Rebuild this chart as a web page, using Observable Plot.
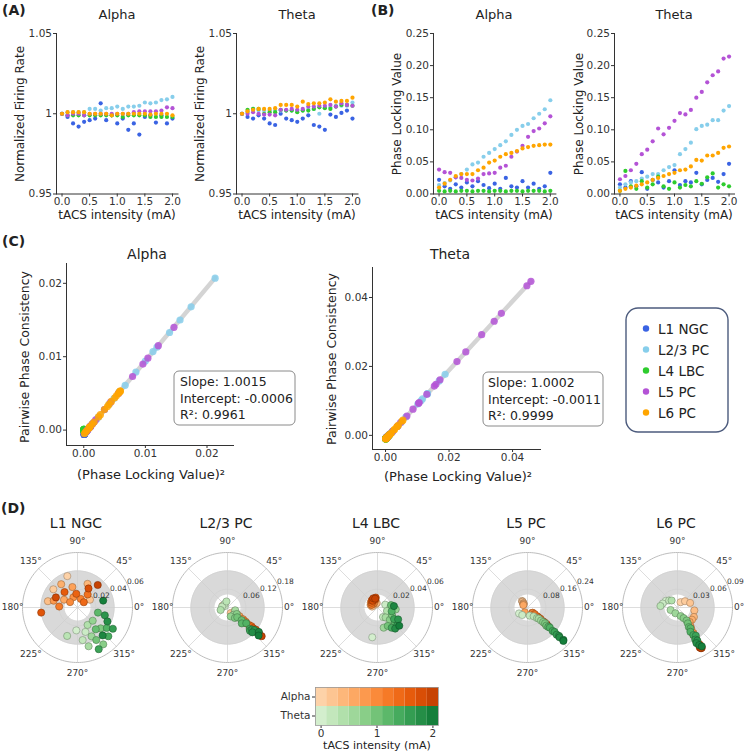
<!DOCTYPE html>
<html>
<head>
<meta charset="utf-8">
<script src="https://cdn.jsdelivr.net/npm/d3@7"></script>
<script src="https://cdn.jsdelivr.net/npm/@observablehq/plot@0.6"></script>
<style>
  html, body { margin: 0; padding: 0; background: #fff; }
  #fig { position: relative; width: 746px; height: 752px; overflow: hidden; font-family: "DejaVu Sans", sans-serif; }
  #fig svg { position: absolute; overflow: visible; }
</style>
</head>
<body>
<div id="fig"></div>
<script>
// ---------- data ----------
const cellTypes = ["L1 NGC", "L2/3 PC", "L4 LBC", "L5 PC", "L6 PC"];
const cellColors = ["#3a63e3", "#87ceeb", "#2ecc2e", "#b453d6", "#ffa500"];
const intensities = [0, 0.1, 0.2, 0.3, 0.4, 0.5, 0.6, 0.7, 0.8, 0.9, 1.0, 1.1, 1.2, 1.3, 1.4, 1.5, 1.6, 1.7, 1.8, 1.9, 2.0];
const barSteps = [0, 0.2, 0.4, 0.6, 0.8, 1.0, 1.2, 1.4, 1.6, 1.8, 2.0];

// (A) normalized firing rate, rows follow cellTypes
const rateAlpha = [
  [1.000, 0.998, 0.994, 0.992, 0.995, 0.996, 0.997, 1.0065, 0.996, 0.999, 0.994, 0.997, 0.990, 0.994, 0.987, 0.998, 0.999, 0.9945, 0.999, 0.994, 0.997],
  [1.000, 1.001, 1.001, 1.001, 1.001, 1.003, 1.003, 1.002, 1.0035, 1.0035, 1.0045, 1.003, 1.0045, 1.0045, 1.005, 1.007, 1.0065, 1.007, 1.0085, 1.009, 1.0105],
  [1.000, 0.999, 0.999, 0.999, 0.999, 0.999, 0.999, 0.999, 0.999, 0.999, 0.999, 0.998, 0.999, 0.999, 0.999, 0.999, 0.998, 0.998, 0.998, 0.998, 0.998],
  [1.000, 0.999, 1.000, 1.000, 0.999, 1.000, 1.000, 1.000, 1.000, 1.000, 1.000, 1.000, 1.000, 1.001, 1.0015, 1.0015, 1.0015, 1.0015, 1.002, 1.004, 1.0035],
  [1.000, 1.001, 1.001, 1.001, 1.001, 1.000, 1.000, 1.000, 1.000, 0.999, 1.000, 1.000, 1.000, 1.000, 1.000, 1.000, 0.9995, 1.000, 1.000, 1.000, 0.999]
];
const rateTheta = [
  [1.000, 0.998, 0.997, 0.999, 0.997, 0.994, 0.993, 1.000, 0.997, 0.996, 0.995, 0.997, 0.999, 0.993, 0.992, 0.990, 0.9995, 0.998, 1.0005, 1.002, 0.997],
  [1.000, 1.001, 1.003, 1.002, 1.002, 1.002, 1.002, 1.002, 1.002, 1.002, 1.002, 1.002, 1.003, 1.003, 1.000, 1.004, 1.004, 1.005, 1.005, 1.005, 1.007],
  [1.000, 1.0025, 1.003, 1.003, 1.000, 1.001, 1.001, 1.0025, 1.002, 1.002, 1.001, 1.002, 1.002, 1.003, 1.004, 1.0035, 1.003, 1.0045, 1.0055, 1.0055, 1.005],
  [1.000, 1.000, 1.001, 1.000, 0.9995, 0.9995, 0.999, 1.0025, 1.0025, 1.003, 1.0025, 1.003, 1.0045, 1.0045, 1.005, 1.005, 1.0055, 1.0045, 1.0065, 1.0055, 1.005],
  [1.000, 1.0015, 1.0025, 1.003, 1.003, 1.003, 1.0035, 1.0055, 1.0055, 1.0055, 1.0045, 1.0075, 1.006, 1.0065, 1.0065, 1.007, 1.009, 1.0075, 1.008, 1.008, 1.010]
];

// (B) phase locking value
const plvAlpha = [
  [0.022, 0.012, 0.008, 0.015, 0.010, 0.018, 0.012, 0.020, 0.014, 0.009, 0.016, 0.008, 0.025, 0.012, 0.010, 0.020, 0.010, 0.016, 0.008, 0.012, 0.033],
  [0.014, 0.017, 0.021, 0.026, 0.031, 0.038, 0.046, 0.049, 0.058, 0.064, 0.070, 0.076, 0.082, 0.092, 0.100, 0.106, 0.109, 0.118, 0.125, 0.132, 0.146],
  [0.005, 0.004, 0.005, 0.004, 0.005, 0.005, 0.004, 0.005, 0.005, 0.004, 0.005, 0.005, 0.004, 0.005, 0.005, 0.004, 0.005, 0.005, 0.005, 0.004, 0.005],
  [0.038, 0.034, 0.033, 0.026, 0.025, 0.022, 0.021, 0.024, 0.031, 0.032, 0.033, 0.041, 0.044, 0.058, 0.066, 0.075, 0.089, 0.098, 0.102, 0.110, 0.121],
  [0.010, 0.016, 0.022, 0.028, 0.031, 0.031, 0.031, 0.037, 0.041, 0.049, 0.052, 0.058, 0.062, 0.064, 0.067, 0.071, 0.073, 0.075, 0.076, 0.077, 0.077]
];
const plvTheta = [
  [0.015, 0.010, 0.020, 0.012, 0.034, 0.008, 0.022, 0.018, 0.010, 0.020, 0.037, 0.014, 0.020, 0.018, 0.033, 0.015, 0.022, 0.025, 0.019, 0.031, 0.047],
  [0.010, 0.015, 0.018, 0.020, 0.024, 0.027, 0.031, 0.031, 0.037, 0.042, 0.045, 0.062, 0.070, 0.080, 0.101, 0.106, 0.108, 0.115, 0.115, 0.130, 0.137],
  [0.005, 0.036, 0.012, 0.008, 0.020, 0.010, 0.015, 0.027, 0.012, 0.008, 0.018, 0.010, 0.014, 0.012, 0.020, 0.016, 0.026, 0.032, 0.010, 0.015, 0.012],
  [0.023, 0.028, 0.037, 0.047, 0.062, 0.069, 0.082, 0.102, 0.093, 0.103, 0.114, 0.126, 0.124, 0.131, 0.150, 0.159, 0.174, 0.185, 0.191, 0.211, 0.214],
  [0.005, 0.008, 0.010, 0.013, 0.015, 0.018, 0.022, 0.025, 0.028, 0.031, 0.033, 0.037, 0.038, 0.043, 0.053, 0.052, 0.060, 0.060, 0.064, 0.072, 0.074]
];

// (C) pairwise phase consistency
const ppcAlpha = [
  [-0.0001, -0.0005, -0.0006, -0.0004, -0.0005, -0.0003, -0.0005, -0.0002, -0.0004, -0.0006, -0.0003, -0.0006, 0.0000, -0.0005, -0.0005, -0.0002, -0.0005, -0.0003, -0.0006, -0.0005, 0.0005],
  [-0.0004, -0.0003, -0.0001, 0.0001, 0.0004, 0.0009, 0.0015, 0.0018, 0.0028, 0.0035, 0.0043, 0.0052, 0.0061, 0.0079, 0.0094, 0.0107, 0.0113, 0.0133, 0.0150, 0.0168, 0.0207],
  [0.0000, -0.0001, 0.0001, 0.0000, -0.0001, 0.0000, 0.0001, -0.0001, 0.0000, 0.0000, 0.0001, -0.0001, 0.0000, 0.0000, -0.0001, 0.0000, 0.0001, 0.0000, -0.0001, 0.0000, 0.0000],
  [0.0009, 0.0006, 0.0005, 0.0001, 0.0000, -0.0001, -0.0002, 0.0000, 0.0004, 0.0004, 0.0005, 0.0011, 0.0014, 0.0028, 0.0038, 0.0050, 0.0073, 0.0090, 0.0098, 0.0115, 0.0140],
  [-0.0005, -0.0003, -0.0001, 0.0002, 0.0004, 0.0004, 0.0004, 0.0008, 0.0011, 0.0018, 0.0021, 0.0028, 0.0032, 0.0035, 0.0039, 0.0044, 0.0047, 0.0050, 0.0052, 0.0053, 0.0053]
];
const ppcTheta = [
  [-0.0007, -0.0008, -0.0005, -0.0008, 0.0002, -0.0009, -0.0004, -0.0006, -0.0008, -0.0005, 0.0004, -0.0007, -0.0005, -0.0006, 0.0001, -0.0007, -0.0004, -0.0003, -0.0006, 0.0000, 0.0012],
  [-0.0010, -0.0009, -0.0008, -0.0007, -0.0005, -0.0004, -0.0001, -0.0001, 0.0003, 0.0007, 0.0009, 0.0027, 0.0038, 0.0053, 0.0091, 0.0101, 0.0106, 0.0121, 0.0121, 0.0158, 0.0177],
  [-0.0010, 0.0002, -0.0009, -0.0010, -0.0007, -0.0010, -0.0009, -0.0004, -0.0009, -0.0010, -0.0008, -0.0010, -0.0009, -0.0009, -0.0007, -0.0008, -0.0004, -0.0001, -0.0010, -0.0009, -0.0009],
  [-0.0006, -0.0003, 0.0003, 0.0011, 0.0027, 0.0037, 0.0056, 0.0093, 0.0076, 0.0095, 0.0119, 0.0148, 0.0143, 0.0161, 0.0214, 0.0242, 0.0292, 0.0331, 0.0354, 0.0434, 0.0447],
  [-0.0010, -0.0010, -0.0009, -0.0009, -0.0008, -0.0007, -0.0006, -0.0005, -0.0003, -0.0001, 0.0000, 0.0003, 0.0003, 0.0007, 0.0017, 0.0016, 0.0025, 0.0025, 0.0030, 0.0041, 0.0044]
];
const fitSlope = [1.0015, 1.0002];
const fitIntercept = [-0.0006, -0.0011];
const fitR2 = [0.9961, 0.9999];

// (D) preferred phase (degrees) and vector length per intensity
const phaseAlpha = [
  [108, 143, 32, 168, 67, 125, 150, 104, 164, 112, 144, 69, 177, 52, 40, 95, 130, 188, 60, 155, 48],
  [150, 160, 300, 335, 318, 325, 322, 324, 320, 323, 321, 322, 320, 321, 322, 320, 321, 322, 320, 321, 320],
  [150, 120, 170, 100, 140, 130, 160, 115, 145, 125, 135, 105, 155, 120, 140, 110, 130, 100, 125, 115, 105],
  [130, 130, 131, 133, 135, 140, 150, 240, 310, 313, 315, 316, 317, 318, 318, 319, 318, 319, 318, 319, 318],
  [60, 40, 20, 350, 330, 320, 310, 305, 303, 302, 300, 301, 300, 299, 300, 301, 300, 299, 300, 301, 300]
];
const vecAlpha = [
  [0.036, 0.033, 0.016, 0.033, 0.028, 0.031, 0.017, 0.023, 0.027, 0.012, 0.010, 0.010, 0.020, 0.018, 0.009, 0.015, 0.022, 0.040, 0.024, 0.026, 0.033],
  [0.014, 0.017, 0.021, 0.026, 0.031, 0.038, 0.046, 0.049, 0.058, 0.064, 0.070, 0.076, 0.082, 0.092, 0.100, 0.106, 0.109, 0.118, 0.125, 0.132, 0.146],
  [0.005, 0.004, 0.006, 0.005, 0.007, 0.006, 0.008, 0.007, 0.009, 0.008, 0.006, 0.009, 0.007, 0.010, 0.008, 0.009, 0.010, 0.011, 0.009, 0.011, 0.010],
  [0.038, 0.034, 0.033, 0.026, 0.025, 0.022, 0.021, 0.024, 0.031, 0.032, 0.033, 0.041, 0.044, 0.058, 0.066, 0.075, 0.089, 0.098, 0.102, 0.110, 0.121],
  [0.010, 0.016, 0.022, 0.028, 0.031, 0.031, 0.031, 0.037, 0.041, 0.049, 0.052, 0.058, 0.062, 0.064, 0.067, 0.071, 0.073, 0.075, 0.076, 0.077, 0.077]
];
const phaseTheta = [
  [267, 288, 279, 250, 300, 286, 296, 319, 305, 318, 300, 310, 346, 325, 317, 297, 329, 344, 335, 312, 15],
  [150, 130, 170, 100, 200, 340, 310, 290, 325, 305, 315, 318, 312, 320, 316, 314, 318, 320, 315, 322, 318],
  [260, 20, 300, 0, 340, 309, 287, 354, 315, 332, 299, 10, 319, 345, 305, 325, 318, 330, 310, 5, 320],
  [215, 235, 285, 305, 312, 315, 316, 318, 317, 318, 316, 318, 317, 318, 317, 318, 317, 318, 317, 318, 317],
  [150, 165, 140, 175, 130, 200, 250, 290, 300, 305, 303, 300, 302, 298, 300, 303, 299, 301, 298, 300, 302]
];
const vecTheta = [
  [0.025, 0.028, 0.036, 0.033, 0.022, 0.044, 0.035, 0.022, 0.049, 0.034, 0.041, 0.031, 0.023, 0.039, 0.046, 0.051, 0.045, 0.031, 0.036, 0.041, 0.029],
  [0.010, 0.015, 0.018, 0.020, 0.024, 0.027, 0.031, 0.031, 0.037, 0.042, 0.045, 0.062, 0.070, 0.080, 0.101, 0.106, 0.108, 0.115, 0.115, 0.130, 0.137],
  [0.033, 0.009, 0.012, 0.014, 0.011, 0.014, 0.023, 0.020, 0.019, 0.018, 0.023, 0.015, 0.025, 0.016, 0.027, 0.022, 0.029, 0.026, 0.030, 0.018, 0.031],
  [0.045, 0.040, 0.037, 0.047, 0.062, 0.069, 0.082, 0.102, 0.093, 0.103, 0.114, 0.126, 0.124, 0.131, 0.150, 0.159, 0.174, 0.185, 0.191, 0.211, 0.214],
  [0.022, 0.025, 0.018, 0.028, 0.015, 0.012, 0.010, 0.015, 0.020, 0.026, 0.031, 0.037, 0.040, 0.045, 0.052, 0.055, 0.060, 0.063, 0.066, 0.071, 0.075]
];
const radialTicks = [
  [0.02, 0.04, 0.06],
  [0.06, 0.12, 0.18],
  [0.02, 0.04, 0.06],
  [0.08, 0.16, 0.24],
  [0.03, 0.06, 0.09]
];
const compass = [0, 45, 90, 135, 180, 225, 270, 315];

// ---------- helpers ----------
const fig = document.getElementById("fig");
const ink = "#333";
const baseStyle = {fontFamily: "DejaVu Sans, sans-serif", color: ink, background: "transparent", overflow: "visible"};
const alphaColor = (v) => d3.interpolateOranges(0.23 + 0.28 * v);
const thetaColor = (v) => d3.interpolateGreens(0.2 + 0.3 * v);
const cellScale = {domain: cellTypes, range: cellColors};

function addPlot(frame, opts, fontSize = "11px") {
  const m = {l: 44, r: 12, t: 12, b: 28};
  const w = frame[1] - frame[0], h = frame[3] - frame[2];
  const svg = Plot.plot({
    width: w + m.l + m.r, height: h + m.t + m.b,
    marginLeft: m.l, marginRight: m.r, marginTop: m.t, marginBottom: m.b,
    style: {...baseStyle, fontSize},
    ...opts
  });
  svg.style.left = (frame[0] - m.l) + "px";
  svg.style.top = (frame[2] - m.t) + "px";
  fig.appendChild(svg);
  return svg;
}

function rows(values, field = "v") {
  return values.flatMap((row, k) => row.map((v, j) => ({type: cellTypes[k], i: intensities[j], [field]: v})));
}

const intensityAxis = {domain: [-0.1, 2.1], ticks: [0, 0.5, 1, 1.5, 2], tickFormat: d3.format(".1f"),
  tickSize: 3, tickPadding: 1, label: null, line: true};

// ---------- (A) firing rate ----------
[[rateAlpha, [56.3, 177.8, 33, 193.5]], [rateTheta, [236.3, 357.8, 33, 193.5]]].forEach(([vals, fr]) => {
  addPlot(fr, {
    x: intensityAxis,
    y: {domain: [0.95, 1.05], ticks: [0.95, 1, 1.05], tickFormat: d3.format("~g"), tickSize: 3, tickPadding: 1.5, line: true, label: null},
    color: cellScale,
    marks: [Plot.dot(rows(vals), {x: "i", y: "v", fill: "type", r: 2.1})]
  }, "10.5px");
});

// ---------- (B) phase locking ----------
[[plvAlpha, [432.8, 555.2, 33, 193.5]], [plvTheta, [614.2, 734.2, 33, 193.5]]].forEach(([vals, fr]) => {
  addPlot(fr, {
    x: intensityAxis,
    y: {domain: [0, 0.25], ticks: [0, 0.05, 0.1, 0.15, 0.2, 0.25], tickFormat: d3.format(".2f"), tickSize: 3, tickPadding: 1.5, line: true, label: null},
    color: cellScale,
    marks: [Plot.dot(rows(vals), {x: "i", y: "v", fill: "type", r: 2.1})]
  }, "10.5px");
});

// ---------- (C) PPC vs PLV squared ----------
[
  {plv: plvAlpha, ppc: ppcAlpha, fr: [66, 233, 263, 445], xd: [-0.0028, 0.0243], yd: [-0.0021, 0.0227], ticks: [0, 0.01, 0.02], f: 0},
  {plv: plvTheta, ppc: ppcTheta, fr: [372, 540, 267, 449], xd: [-0.0041, 0.0488], yd: [-0.0041, 0.0487], ticks: [0, 0.02, 0.04], f: 1}
].forEach(({plv, ppc, fr, xd, yd, ticks, f}) => {
  const pts = plv.flatMap((row, k) => row.map((p, j) => ({type: cellTypes[k], x: p * p, y: ppc[k][j]})));
  const xmax = d3.max(pts, (d) => d.x);
  const fit = [0, xmax].map((x) => ({x, y: fitSlope[f] * x + fitIntercept[f]}));
  addPlot(fr, {
    x: {domain: xd, ticks, tickFormat: d3.format(".2f"), tickSize: 3, tickPadding: 1.5, line: true, label: null},
    y: {domain: yd, ticks, tickFormat: d3.format(".2f"), tickSize: 3, tickPadding: 1.5, line: true, label: null},
    color: cellScale,
    marks: [
      Plot.line(fit, {x: "x", y: "y", stroke: "#d4d4d4", strokeWidth: 4.5}),
      Plot.dot(pts, {x: "x", y: "y", fill: "type", r: 3.6, fillOpacity: 0.85})
    ]
  }, "10.5px");
});

// ---------- (D) polar phase plots ----------
const R = 55, polarY = 607;
const polarX = [77, 227, 377, 527, 677];
const rad = Math.PI / 180;
const ring = (r) => d3.range(0, 361, 2).map((a) => [r * Math.cos(a * rad), r * Math.sin(a * rad)]);

cellTypes.forEach((name, k) => {
  const rt = radialTicks[k];
  const rmax = rt[rt.length - 1];
  const unit = rmax / R; // data units per pixel
  const pts = [
    ...phaseAlpha[k].map((a, j) => ({a, r: vecAlpha[k][j], fill: alphaColor(intensities[j])})),
    ...phaseTheta[k].map((a, j) => ({a, r: vecTheta[k][j], fill: thetaColor(intensities[j])}))
  ];
  const labelAt = (a, rr) => ({a, x: rr * Math.cos(a * rad), y: rr * Math.sin(a * rad)});
  const mid = compass.filter((a) => a !== 0 && a !== 180).map((a) => labelAt(a, (R + 11) * unit));
  const east = [labelAt(0, (R + 1.5) * unit)];
  const west = [labelAt(180, (R - 1) * unit)];
  const svg = Plot.plot({
    width: 150, height: 150, margin: 20,
    x: {domain: [-rmax, rmax], axis: null},
    y: {domain: [-rmax, rmax], axis: null},
    color: {type: "identity"},
    style: {...baseStyle, fontSize: "9px"},
    marks: [
      Plot.line(ring(25 * unit), {x: (d) => d[0], y: (d) => d[1], stroke: "#d9d9d9", strokeWidth: 24}),
      Plot.link(compass, {x1: () => 0, y1: () => 0, x2: (a) => rmax * Math.cos(a * rad), y2: (a) => rmax * Math.sin(a * rad),
        stroke: "#cfcfcf", strokeWidth: 0.7}),
      ...rt.map((t, ti) => Plot.line(ring(t), {x: (d) => d[0], y: (d) => d[1],
        stroke: ti === rt.length - 1 ? "#bdbdbd" : "#d0d0d0", strokeWidth: ti === rt.length - 1 ? 1 : 0.7})),
      Plot.dot(pts, {x: (d) => d.r * Math.cos(d.a * rad), y: (d) => d.r * Math.sin(d.a * rad), r: 3.6,
        fill: "fill", stroke: (d) => d3.color(d.fill).darker(1.3).formatHex(), strokeWidth: 0.6}),
      Plot.text(rt, {x: (t) => t * Math.cos(22.5 * rad), y: (t) => t * Math.sin(22.5 * rad), text: d3.format(".2f"),
        dx: 7, dy: -5, fontSize: 7.5, fill: ink}),
      Plot.text(mid, {x: "x", y: "y", text: (d) => d.a + "°", fill: ink}),
      Plot.text(east, {x: "x", y: "y", text: (d) => d.a + "°", textAnchor: "start", fill: ink}),
      Plot.text(west, {x: "x", y: "y", text: (d) => d.a + "°", textAnchor: "end", fill: ink})
    ]
  });
  svg.style.left = (polarX[k] - 75) + "px";
  svg.style.top = (polarY - 75) + "px";
  fig.appendChild(svg);
});

// ---------- colour bar ----------
const barCells = [
  ...barSteps.map((v) => ({band: "Alpha", v, fill: alphaColor(v)})),
  ...barSteps.map((v) => ({band: "Theta", v, fill: thetaColor(v)}))
];
addPlot([315, 438, 687, 725], {
  x: {domain: [-0.1, 2.1], ticks: [0, 1, 2], tickFormat: d3.format("d"), tickSize: 3, tickPadding: 1, label: null},
  y: {domain: ["Alpha", "Theta"], padding: 0, tickSize: 3, tickPadding: 2, label: null},
  color: {type: "identity"},
  marks: [
    Plot.barX(barCells, {x1: (d) => d.v - 0.1, x2: (d) => d.v + 0.1, y: "band", fill: "fill", inset: 0}),
    Plot.frame({stroke: "#9a9a9a", strokeWidth: 0.8})
  ]
}, "10.5px");

// ---------- text, legend and annotation layer ----------
const overlay = d3.create("svg").attr("width", 746).attr("height", 752)
  .style("left", "0px").style("top", "0px").style("pointer-events", "none")
  .attr("font-family", "DejaVu Sans, sans-serif");
function txt(x, y, s, {size = 12, anchor = "middle", weight = "normal", rotate = 0, fill = "#222"} = {}) {
  overlay.append("text").attr("x", x).attr("y", y)
    .attr("text-anchor", anchor).attr("dominant-baseline", "central")
    .attr("font-size", size).attr("font-weight", weight).attr("fill", fill)
    .attr("transform", rotate ? `rotate(${rotate},${x},${y})` : null)
    .text(s);
}

// panel letters
txt(2, 10, "(A)", {size: 14, anchor: "start", weight: "bold"});
txt(371, 10, "(B)", {size: 14, anchor: "start", weight: "bold"});
txt(2, 241, "(C)", {size: 14, anchor: "start", weight: "bold"});
txt(1, 508, "(D)", {size: 14, anchor: "start", weight: "bold"});

// (A) and (B) titles and axis labels
[[117, "Alpha"], [297, "Theta"], [494, "Alpha"], [674, "Theta"]].forEach(([x, t]) => {
  txt(x, 14, t, {size: 13});
  txt(x, 215, "tACS intensity (mA)", {size: 12});
});
txt(20, 114, "Normalized Firing Rate", {size: 12, rotate: -90});
txt(200, 114, "Normalized Firing Rate", {size: 12, rotate: -90});
txt(397, 114, "Phase Locking Value", {size: 12, rotate: -90});
txt(579, 114, "Phase Locking Value", {size: 12, rotate: -90});

// (C) titles, labels and fit boxes
txt(147, 254, "Alpha", {size: 14});
txt(450, 254, "Theta", {size: 14});
txt(151, 474, "(Phase Locking Value)²", {size: 13});
txt(458, 476, "(Phase Locking Value)²", {size: 13});
txt(24, 357, "Pairwise Phase Consistency", {size: 12.5, rotate: -90});
txt(331, 359, "Pairwise Phase Consistency", {size: 12.5, rotate: -90});

[[174, 371, 121, 180], [483, 372, 120, 488]].forEach(([bx, by, bw, tx], f) => {
  overlay.append("rect").attr("x", bx).attr("y", by).attr("width", bw).attr("height", 54).attr("rx", 5)
    .attr("fill", "#fff").attr("fill-opacity", 0.85).attr("stroke", "#8a8a8a").attr("stroke-width", 1);
  txt(tx, by + 10.5, "Slope: " + fitSlope[f].toFixed(4), {size: 12.5, anchor: "start"});
  txt(tx, by + 27, "Intercept: " + fitIntercept[f].toFixed(4), {size: 12.5, anchor: "start"});
  txt(tx, by + 43.5, "R²: " + fitR2[f].toFixed(4), {size: 12.5, anchor: "start"});
});

// legend
overlay.append("rect").attr("x", 626).attr("y", 308).attr("width", 102).attr("height", 124).attr("rx", 12)
  .attr("fill", "#fff").attr("stroke", "#4c5b7d").attr("stroke-width", 1.4);
cellTypes.forEach((t, k) => {
  overlay.append("circle").attr("cx", 646).attr("cy", 328.5 + k * 21).attr("r", 3.2).attr("fill", cellColors[k]);
  txt(658, 328.5 + k * 21, t, {size: 13.5, anchor: "start"});
});

// (D) titles and colour bar label
cellTypes.forEach((t, k) => txt(polarX[k] - 1, 523, t, {size: 14}));
txt(377, 745, "tACS intensity (mA)", {size: 11});

fig.appendChild(overlay.node());
</script>
</body>
</html>
